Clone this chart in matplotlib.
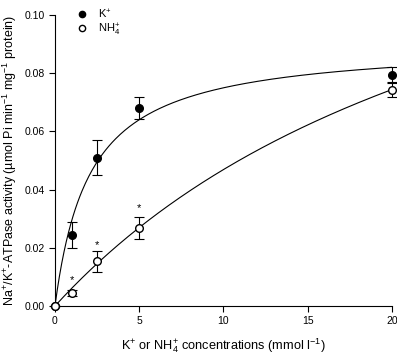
import matplotlib.pyplot as plt
from matplotlib.lines import Line2D
import numpy as np

plt.rcParams['font.family'] = ['Liberation Sans', 'DejaVu Sans']
plt.rcParams['mathtext.fontset'] = 'custom'
plt.rcParams['mathtext.rm'] = 'Liberation Sans'
plt.rcParams['mathtext.it'] = 'Liberation Sans:italic'

# concentrations (mmol/l)
conc = [0, 1, 2.5, 5, 20]

# K+ activity
k_mean = [0.0, 0.0244, 0.0510, 0.0680, 0.0795]
k_err = [0.0, 0.0045, 0.0060, 0.0037, 0.0025]

# NH4+ activity
nh4_mean = [0.0, 0.0045, 0.0153, 0.0268, 0.0743]
nh4_err = [0.0, 0.0010, 0.0035, 0.0038, 0.0025]

# fitted Michaelis-Menten parameters (Vmax, Km)
k_fit = (0.0905, 2.07)
nh4_fit = (0.180, 28.4)

# significance marks over NH4+ points
star_x = [1, 2.5, 5]
star_y = [0.0088, 0.0210, 0.0335]

fig = plt.figure(figsize=(3.97, 3.54), dpi=100)
ax = fig.add_axes([0.1385, 0.1356, 0.8485, 0.822])

xx = np.linspace(0, 20, 300)
ax.plot(xx, k_fit[0] * xx / (k_fit[1] + xx), color='black', lw=0.8)
ax.plot(xx, nh4_fit[0] * xx / (nh4_fit[1] + xx), color='black', lw=0.8)

ax.errorbar(conc, k_mean, yerr=k_err, fmt='o', color='black', mfc='black',
            ms=5.5, capsize=3.5, elinewidth=0.8, capthick=0.8,
            clip_on=False, zorder=3)
ax.errorbar(conc, nh4_mean, yerr=nh4_err, fmt='o', color='black', mfc='white',
            ms=5.5, capsize=3.5, elinewidth=0.8, capthick=0.8,
            clip_on=False, zorder=4)

for sx, sy in zip(star_x, star_y):
    ax.text(sx, sy, '*', ha='center', va='center', fontsize=8)

ax.set_xlim(0, 20)
ax.set_ylim(0, 0.10)
ax.set_xticks([0, 5, 10, 15, 20])
ax.set_yticks([0, 0.02, 0.04, 0.06, 0.08, 0.10])
ax.set_yticklabels(['0.00', '0.02', '0.04', '0.06', '0.08', '0.10'])
ax.tick_params(direction='out', length=4, width=0.8, labelsize=7.5)
ax.spines['top'].set_visible(False)
ax.spines['right'].set_visible(False)
for s in ['left', 'bottom']:
    ax.spines[s].set_linewidth(0.8)

ax.set_xlabel('K$^{+}$ or NH$_4^{+}$ concentrations (mmol l$^{-1}$)', fontsize=9.2, labelpad=7)
ax.set_ylabel('Na$^{+}$/K$^{+}$-ATPase activity (µmol Pi min$^{-1}$ mg$^{-1}$ protein)',
              fontsize=9, labelpad=4)

handles = [Line2D([], [], ls='', marker='o', ms=4.5, color='black', mfc='black'),
           Line2D([], [], ls='', marker='o', ms=4.5, color='black', mfc='white')]
ax.legend(handles, ['K$^{+}$', 'NH$_4^{+}$'], loc='upper left',
          bbox_to_anchor=(0.035, 1.06), frameon=False, fontsize=8,
          handletextpad=0.9, labelspacing=0.05, handlelength=1.0)

fig.savefig('out.png', dpi=100)
